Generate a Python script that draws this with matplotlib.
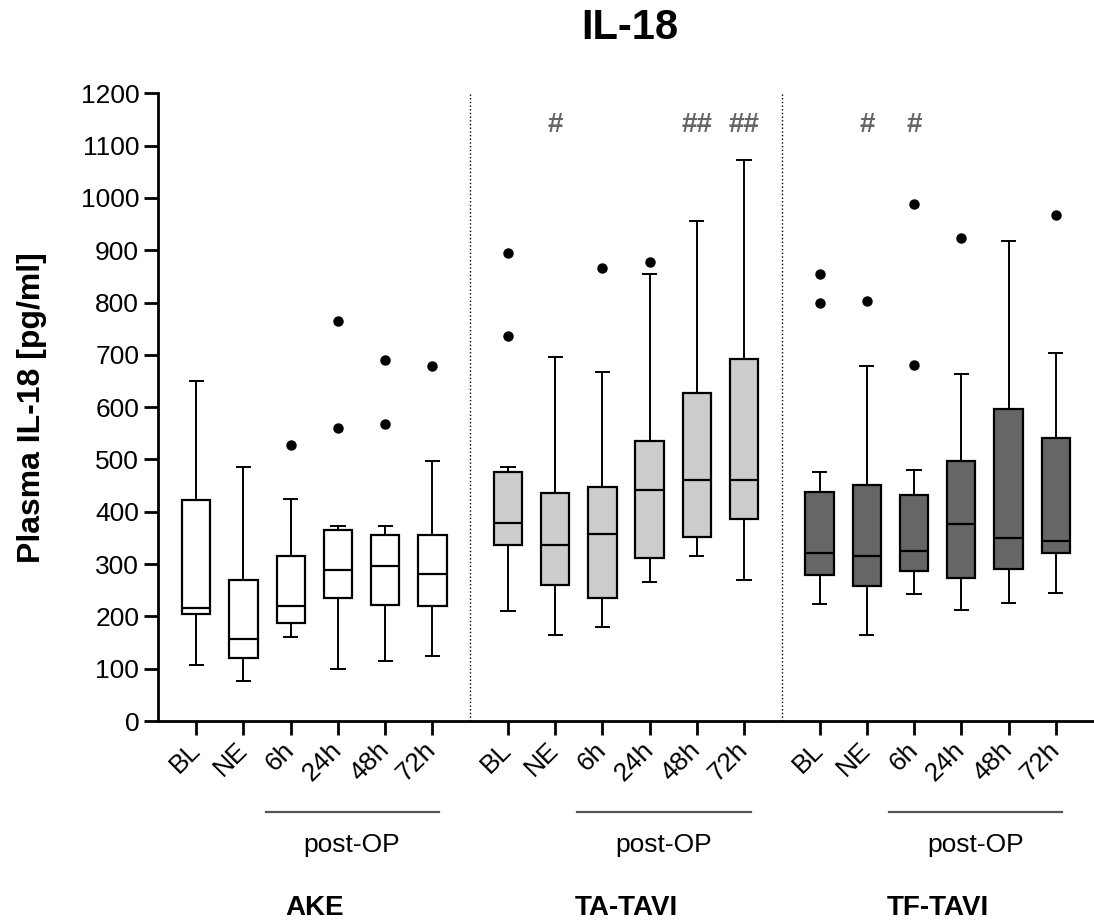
import matplotlib
matplotlib.use('Agg')
import matplotlib.pyplot as plt
import matplotlib.transforms as mtransforms

plt.rcParams['font.family'] = ['Liberation Sans', 'DejaVu Sans']

# Daten
timepoints = ['BL', 'NE', '6h', '24h', '48h', '72h']
groups = ['AKE', 'TA-TAVI', 'TF-TAVI']
group_colors = ['#ffffff', '#cccccc', '#666666']

# je Zeitpunkt: [whislo, q1, med, q3, whishi]
ake_stats = [[108, 205, 217, 423, 650], [76, 120, 157, 269, 486], [160, 187, 219, 315, 425],
             [100, 236, 289, 366, 372], [114, 221, 297, 355, 373], [125, 219, 282, 355, 498]]
ake_fliers = [[], [], [527], [765, 561], [691, 567], [678]]

ta_stats = [[211, 336, 378, 476, 486], [165, 260, 336, 436, 695], [179, 236, 357, 448, 667],
            [265, 311, 441, 536, 855], [315, 351, 460, 628, 956], [269, 386, 461, 692, 1073]]
ta_fliers = [[895, 737], [], [867], [878], [], []]

tf_stats = [[224, 280, 321, 437, 477], [165, 259, 316, 451, 678], [243, 287, 326, 433, 480],
            [213, 273, 376, 497, 663], [225, 291, 349, 596, 918], [245, 322, 344, 542, 704]]
tf_fliers = [[855, 799], [803], [989, 680], [924], [], [967]]

# Signifikanzmarken (Gruppe, Zeitpunkt-Index, Text)
sig_marks = [(1, 1, '#'), (1, 4, '##'), (1, 5, '##'), (2, 1, '#'), (2, 2, '#')]

all_stats = [ake_stats, ta_stats, tf_stats]
all_fliers = [ake_fliers, ta_fliers, tf_fliers]

group_step = 6.6  # Abstand zwischen den Gruppen

fig = plt.figure(figsize=(10.94, 9.23), dpi=100)
ax = fig.add_axes([0.1444, 0.2188, 0.8556, 0.6801])

tick_pos = []
tick_lab = []
for g in range(3):
    pos = [g * group_step + i for i in range(6)]
    stats = []
    for i in range(6):
        lo, q1, med, q3, hi = all_stats[g][i]
        stats.append(dict(whislo=lo, q1=q1, med=med, q3=q3, whishi=hi,
                          fliers=all_fliers[g][i]))
    ax.bxp(stats, positions=pos, widths=0.6, patch_artist=True, showfliers=True,
           boxprops=dict(facecolor=group_colors[g], edgecolor='black', linewidth=1.6),
           medianprops=dict(color='black', linewidth=1.6),
           whiskerprops=dict(color='black', linewidth=1.4),
           capprops=dict(color='black', linewidth=1.4),
           capwidths=0.28,
           flierprops=dict(marker='o', markerfacecolor='black', markeredgecolor='black',
                           markersize=6.5))
    tick_pos += pos
    tick_lab += timepoints

# gepunktete Trennlinien
for g in range(2):
    xsep = g * group_step + 5 + (group_step - 5) / 2
    ax.axvline(xsep, color='black', linestyle=':', linewidth=1.0)

# Signifikanz
for g, i, txt in sig_marks:
    ax.text(g * group_step + i, 1139, txt, ha='center', va='center',
            fontsize=20, fontweight='bold', color='#666666')

ax.set_xlim(-0.81, 2 * group_step + 5 + 0.81)
ax.set_ylim(0, 1200)
ax.set_yticks(range(0, 1201, 100))
ax.set_xticks(tick_pos)
ax.set_xticklabels(tick_lab, rotation=45, ha='right', va='center',
                   rotation_mode='anchor', fontsize=19)
ax.tick_params(axis='y', labelsize=19, length=10, width=2)
ax.tick_params(axis='x', length=10, width=2, pad=8)
for s in ['top', 'right']:
    ax.spines[s].set_visible(False)
for s in ['left', 'bottom']:
    ax.spines[s].set_linewidth(2)

ax.set_ylabel('Plasma IL-18 [pg/ml]', fontsize=23, fontweight='bold', labelpad=24)

# Beschriftungen unter der Achse
trans = mtransforms.blended_transform_factory(ax.transData, fig.transFigure)
for g in range(3):
    x0 = g * group_step
    ax.plot([x0 + 1.47, x0 + 5.14], [0.12, 0.12], color='#555555', linewidth=1.6,
            transform=trans, clip_on=False)
    ax.text(x0 + 3.3, 0.084, 'post-OP', ha='center', va='center', fontsize=19,
            transform=trans)
    ax.text(x0 + 2.5, 0.0163, groups[g], ha='center', va='center', fontsize=20,
            fontweight='bold', transform=trans)

fig.text(0.576, 0.970, 'IL-18', ha='center', va='center', fontsize=30,
         fontweight='bold')

fig.savefig('out.png', dpi=100)
plt.close(fig)
